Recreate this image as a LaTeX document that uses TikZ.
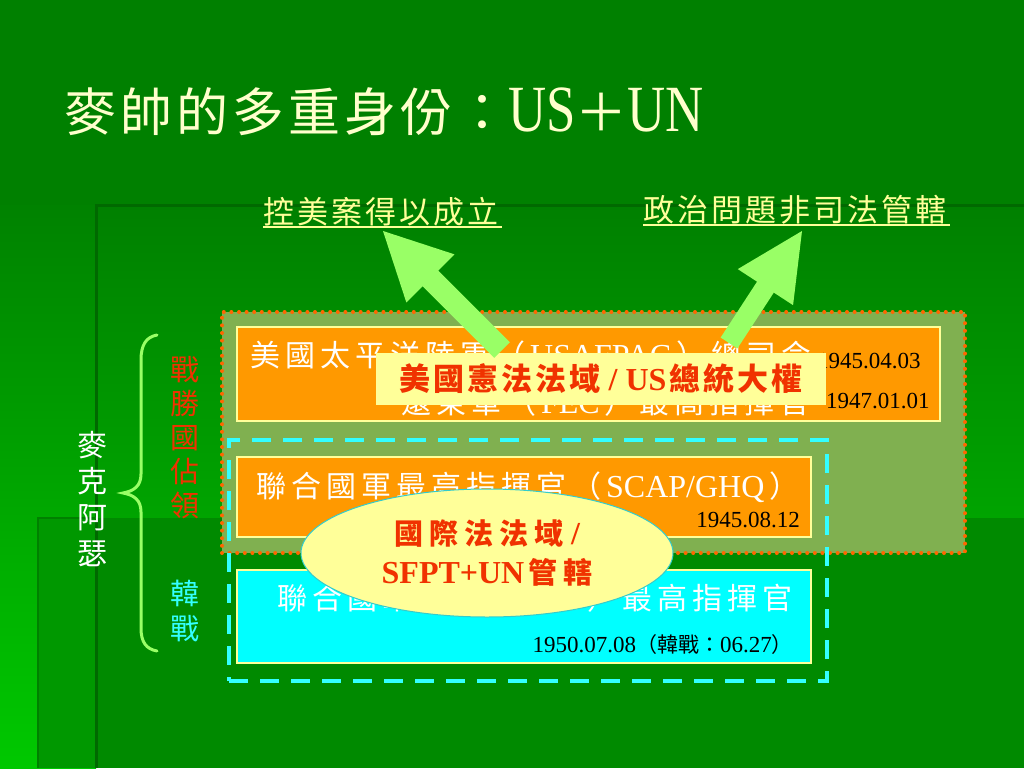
\documentclass[tikz,border=0pt]{standalone}
\usepackage{fontspec}
\setmainfont{Liberation Serif}
\newfontfamily\cjk{Noto Sans CJK TC}
\newfontfamily\narrowlat{Liberation Serif}[FakeStretch=0.8]
\usetikzlibrary{shapes.geometric,calc}
\definecolor{bgtop}{RGB}{0,128,0}
\definecolor{bgleftT}{RGB}{0,130,0}
\definecolor{bgleftB}{RGB}{0,200,0}
\definecolor{bgmidT}{RGB}{0,128,0}
\definecolor{bgmidB}{RGB}{0,164,0}
\definecolor{bglowL}{RGB}{0,152,0}
\definecolor{bglowR}{RGB}{0,138,0}
\definecolor{bgedge}{RGB}{0,105,0}
\definecolor{bgedgeB}{RGB}{0,128,0}
\definecolor{titlecol}{RGB}{255,255,204}
\definecolor{paleyel}{RGB}{255,255,153}
\definecolor{olivefill}{RGB}{128,176,80}
\definecolor{orangedot}{RGB}{255,102,0}
\definecolor{orangefill}{RGB}{255,153,0}
\definecolor{cyanline}{RGB}{51,255,255}
\definecolor{cyanfill}{RGB}{0,255,255}
\definecolor{arrowgreen}{RGB}{153,255,102}
\definecolor{redtxt}{RGB}{240,50,0}
\definecolor{ellipseedge}{RGB}{51,204,204}
\makeatletter
\newcommand\ltrsp[2]{\def\ltrsp@gap{#1}\ltrsp@loop#2\ltrsp@end}
\def\ltrsp@loop#1{\ifx#1\ltrsp@end\unkern\else#1\kern\ltrsp@gap\relax\expandafter\ltrsp@loop\fi}
\makeatother
\begin{document}
\begin{tikzpicture}[x=1pt,y=-1pt,
  container/.style={fill=olivefill, draw=orangedot, line width=4pt, line cap=round, dash pattern=on 0pt off 7.6pt},
  cyancont/.style={draw=cyanline, line width=4pt, dash pattern=on 19pt off 12pt},
  obox/.style={draw=paleyel, line width=1.3pt, fill=orangefill, inner sep=0pt},
  cbox/.style={draw=paleyel, line width=1.3pt, fill=cyanfill, inner sep=0pt},
  boxtxt/.style={text=white, inner sep=0pt, font=\fontsize{32}{36}\selectfont},
  datetxt/.style={text=black, inner sep=0pt, font=\fontsize{23}{26}\selectfont},
  toptext/.style={text=paleyel, inner sep=0pt, font=\cjk\fontsize{31}{36}\selectfont},
  ulstyle/.style={draw=paleyel, line width=2pt},
  vtext/.style={align=center, inner sep=0pt},
  arrowfill/.style={fill=arrowgreen},
  bracestyle/.style={draw=arrowgreen, line width=3pt, line cap=round},
  redbold/.style={text=redtxt, font=\bfseries\fontsize{32}{39}\selectfont}
]
\useasboundingbox (0,0) rectangle (1024,768);
% background
\fill[bgtop] (0,0) rectangle (1024,768);
\shade[top color=bgleftT, bottom color=bgleftB] (0,205) rectangle (96,768);
\shade[top color=bgmidT, bottom color=bgmidB] (96,205) rectangle (1024,518);
\fill[bglowL] (37,518) rectangle (96,768);
\fill[bglowR] (96,518) rectangle (1024,768);
\draw[bgedge, line width=3pt] (96,768) -- (96,205) -- (1024,205);
\draw[bgedgeB, line width=2pt] (38,768) -- (38,518) -- (96,518);

% title
\node[anchor=base west, text=titlecol, inner sep=0pt, font=\fontsize{52}{60}\selectfont] (title) at (64,131)
  {{\cjk\ltrsp{4pt}{麥帥的多重身份：}}{\narrowlat\fontsize{66}{70}\selectfont US}{\cjk ＋}{\narrowlat\fontsize{66}{70}\selectfont UN}};

% containers and boxes
\node[container, minimum width=743pt, minimum height=241pt, inner sep=0pt] (occ) at (593.5,432.5) {};
\node[obox, minimum width=703pt, minimum height=94pt] (box1) at (588.5,374) {};
\node[obox, minimum width=574pt, minimum height=80pt] (box2) at (524,497) {};
\node[cyancont, minimum width=598pt, minimum height=241pt, inner sep=0pt] (ccont) at (528,560.5) {};
\node[cbox, minimum width=574pt, minimum height=93pt] (box3) at (524,616.5) {};

% box texts
\node[boxtxt, anchor=base west] (t1a) at (250,366)
  {{\cjk\fontsize{30}{36}\selectfont\ltrsp{5pt}{美國太平洋陸軍（}}\kern5pt USAFPAC\kern5pt{\cjk\fontsize{30}{36}\selectfont\ltrsp{5pt}{）總司令}}};
\node[boxtxt, anchor=base east] (t1b) at (810,413)
  {{\cjk\fontsize{30}{36}\selectfont\ltrsp{5pt}{遠東軍（}}\kern5pt FEC\kern5pt{\cjk\fontsize{30}{36}\selectfont\ltrsp{5pt}{）最高指揮官}}};
\node[datetxt, anchor=base west] (d1) at (817,368) {1945.04.03};
\node[datetxt, anchor=base west] (d2) at (826,408) {1947.01.01};
\node[boxtxt, anchor=base west] (t2) at (256,497)
  {{\cjk\fontsize{30}{36}\selectfont\ltrsp{5pt}{聯合國軍最高指揮官（}}\kern5pt SCAP/GHQ\kern5pt{\cjk\fontsize{30}{36}\selectfont ）}};
\node[datetxt, anchor=base east] (d3) at (800,527) {1945.08.12};
\node[boxtxt, anchor=base west] (t3) at (277,609)
  {{\cjk\fontsize{30}{36}\selectfont\ltrsp{5pt}{聯合國軍（}}\kern5pt{\fontsize{29}{36}\selectfont CINCUNC}\kern5pt{\cjk\fontsize{30}{36}\selectfont\ltrsp{5pt}{）最高指揮官}}};
\node[datetxt, anchor=base east] (d4) at (793,652)
  {1950.07.08{\cjk\fontsize{21}{24}\selectfont （韓戰：}06.27{\cjk\fontsize{21}{24}\selectfont ）}};

% ellipse
\node[ellipse, fill=paleyel, draw=ellipseedge, line width=1pt, minimum width=372pt, minimum height=128pt, inner sep=0pt,
      align=center, redbold] (ell) at (487,553)
  {{\cjk\fontsize{29}{39}\selectfont\ltrsp{6pt}{國際法法域}}\ /\\SFPT+UN{\cjk\fontsize{29}{39}\selectfont\kern4pt\ltrsp{6pt}{管轄}}};

% yellow box
\node[fill=paleyel, minimum width=450pt, minimum height=52pt, inner sep=0pt, redbold] (ybox) at (601,379)
  {{\cjk\fontsize{31}{36}\selectfont\ltrsp{3pt}{美國憲法法域}}\ /\ US\kern3pt{\cjk\fontsize{31}{36}\selectfont\ltrsp{3pt}{總統大權}}};

% top labels
\node[toptext, anchor=base west] (l1) at (263,223) {\ltrsp{3pt}{控美案得以成立}};
\draw[ulstyle] ([xshift=0pt,yshift=-4pt]l1.base west) -- ([xshift=4pt,yshift=-4pt]l1.base east);
\node[toptext, anchor=base west] (l2) at (643,221) {\ltrsp{3pt}{政治問題非司法管轄}};
\draw[ulstyle] ([xshift=0pt,yshift=-4pt]l2.base west) -- ([xshift=4pt,yshift=-4pt]l2.base east);

% arrows
\coordinate (a1t) at (502,350);
\coordinate (a1p) at (383,231);
\coordinate (a1h) at ($(a1p)!67pt!(a1t)$);
\fill[arrowfill] ($(a1t)!11pt!90:(a1p)$) -- ($(a1h)!11pt!90:(a1p)$) -- ($(a1h)!34pt!90:(a1p)$) -- (a1p)
  -- ($(a1h)!34pt!-90:(a1p)$) -- ($(a1h)!11pt!-90:(a1p)$) -- ($(a1t)!11pt!-90:(a1p)$) -- cycle;
\coordinate (a2t) at (729,343);
\coordinate (a2p) at (802,231);
\coordinate (a2h) at ($(a2p)!67pt!(a2t)$);
\fill[arrowfill] ($(a2t)!10pt!90:(a2p)$) -- ($(a2h)!10pt!90:(a2p)$) -- ($(a2h)!33pt!90:(a2p)$) -- (a2p)
  -- ($(a2h)!33pt!-90:(a2p)$) -- ($(a2h)!10pt!-90:(a2p)$) -- ($(a2t)!10pt!-90:(a2p)$) -- cycle;

% left side
\draw[bracestyle] (157,335) .. controls (146,337) and (141,345) .. (141,360) -- (141,474)
  .. controls (141,486) and (134,491) .. (123,493) .. controls (134,495) and (141,500) .. (141,512)
  -- (141,628) .. controls (141,642) and (146,649) .. (157,651);
\node[vtext, text=redtxt, font=\cjk\fontsize{29}{34}\selectfont] (zhan) at (185,438)
  {戰\\勝\\國\\佔\\領};
\node[vtext, text=cyanline, font=\cjk\fontsize{29}{35}\selectfont] (han) at (185,610.5)
  {韓\\戰};
\node[vtext, text=white, font=\cjk\fontsize{30}{36}\selectfont] (mac) at (92,499)
  {麥\\克\\阿\\瑟};
\end{tikzpicture}
\end{document}
